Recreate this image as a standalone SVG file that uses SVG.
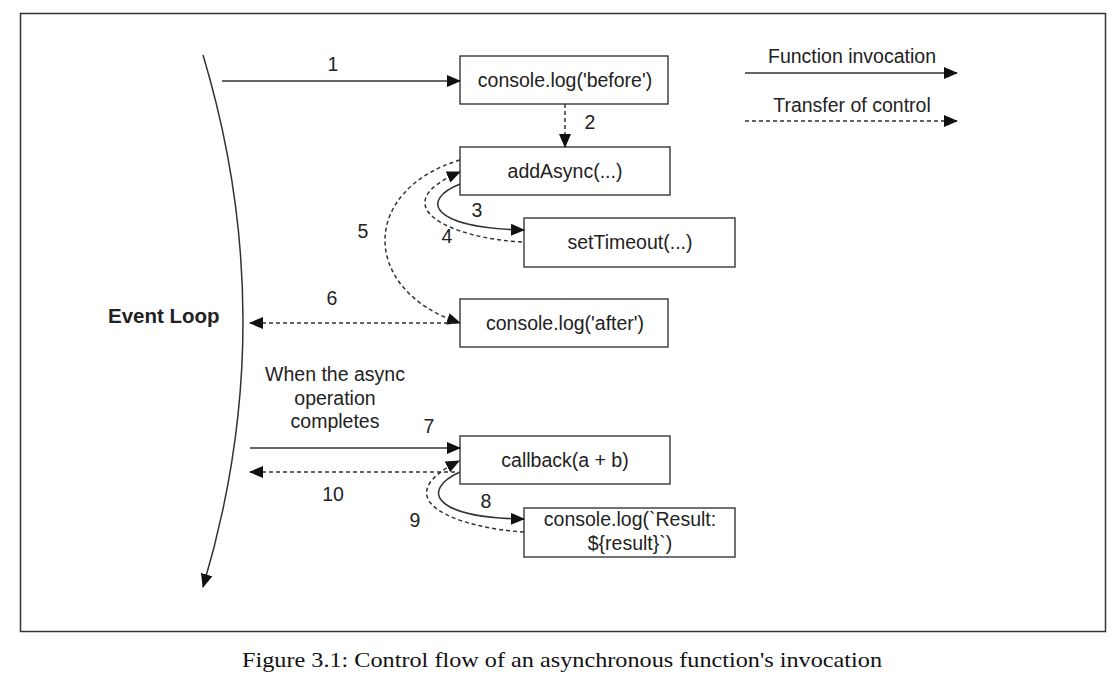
<svg xmlns="http://www.w3.org/2000/svg" width="1120" height="689" viewBox="0 0 1120 689">
<defs>
<marker id="ah" markerUnits="userSpaceOnUse" markerWidth="14" markerHeight="12" viewBox="0 0 14 12" refX="13" refY="6" orient="auto">
<path d="M0,0 L14,6 L0,12 Z" fill="#111"/>
</marker>
</defs>
<style>
.box{fill:#fff;stroke:#444;stroke-width:1.5}
.t{font-family:"Liberation Sans",Arial,sans-serif;font-size:19.5px;fill:#222;text-anchor:middle}
.s{fill:none;stroke:#333;stroke-width:1.5}
.d{fill:none;stroke:#333;stroke-width:1.5;stroke-dasharray:4,3}
</style>
<rect x="20.5" y="13.5" width="1085" height="618" fill="#fff" stroke="#333" stroke-width="1.5"/>
<g id="legend">
<text class="t" x="852" y="63">Function invocation</text>
<path class="s" d="M745,73 L957,73" marker-end="url(#ah)"/>
<text class="t" x="852" y="112">Transfer of control</text>
<path class="d" d="M745,121 L957,121" marker-end="url(#ah)"/>
</g>
<g id="event-loop">
<path class="s" d="M203,55 Q283,321 203,587" marker-end="url(#ah)"/>
<text class="t" x="108" y="323" style="font-weight:bold;font-size:20.5px;text-anchor:start">Event Loop</text>
<text class="t" x="335" y="381">When the async</text>
<text class="t" x="335" y="405">operation</text>
<text class="t" x="335" y="428">completes</text>
</g>
<g id="n-before"><rect class="box" x="460" y="56" width="208" height="48"/><text class="t" x="565" y="87">console.log('before')</text></g>
<g id="n-addasync"><rect class="box" x="460" y="147" width="210" height="48"/><text class="t" x="565" y="178">addAsync(...)</text></g>
<g id="n-settimeout"><rect class="box" x="524" y="218" width="211" height="49"/><text class="t" x="630" y="249">setTimeout(...)</text></g>
<g id="n-after"><rect class="box" x="460" y="299" width="208" height="48"/><text class="t" x="565" y="330">console.log('after')</text></g>
<g id="n-callback"><rect class="box" x="460" y="436" width="210" height="48"/><text class="t" x="565" y="467">callback(a + b)</text></g>
<g id="n-result"><rect class="box" x="524" y="508" width="211" height="49"/><text class="t" x="630" y="526">console.log(`Result:</text><text class="t" x="630" y="550">${result}`)</text></g>
<g id="connectors">
<path class="s" d="M222,81 L460,81" marker-end="url(#ah)"/>
<path class="d" d="M565,104 L565,147" marker-end="url(#ah)"/>
<path class="s" d="M460,184 C420,200 430,228 524,230" marker-end="url(#ah)"/>
<path class="d" d="M522,242 C448,238 382,205 460,172" marker-end="url(#ah)"/>
<path class="d" d="M460,160 C360,190 360,290 460,323" marker-end="url(#ah)"/>
<path class="d" d="M455,323 L250,323" marker-end="url(#ah)"/>
<path class="s" d="M250,448 L460,448" marker-end="url(#ah)"/>
<path class="d" d="M455,472 L250,472" marker-end="url(#ah)"/>
<path class="s" d="M460,472 C420,490 433,518 524,519" marker-end="url(#ah)"/>
<path class="d" d="M524,532 C458,528 382,500 459,461" marker-end="url(#ah)"/>
<text class="t" x="333" y="71">1</text>
<text class="t" x="590" y="129">2</text>
<text class="t" x="477" y="217">3</text>
<text class="t" x="447" y="243">4</text>
<text class="t" x="363" y="238">5</text>
<text class="t" x="332" y="305">6</text>
<text class="t" x="429" y="433">7</text>
<text class="t" x="486" y="508">8</text>
<text class="t" x="415" y="527">9</text>
<text class="t" x="333" y="501">10</text>
</g>
<text x="562" y="667" style="font-family:'Liberation Serif','Times New Roman',serif;font-size:21px;fill:#111;text-anchor:middle" textLength="640" lengthAdjust="spacingAndGlyphs">Figure 3.1: Control flow of an asynchronous function's invocation</text>
</svg>
